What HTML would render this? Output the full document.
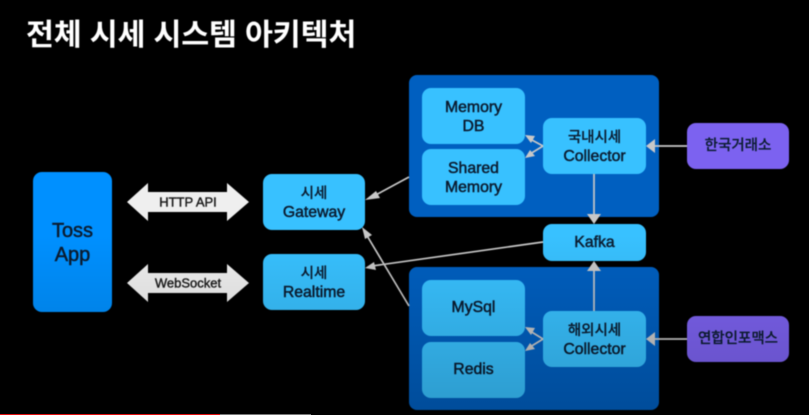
<!DOCTYPE html>
<html><head><meta charset="utf-8"><style>
html,body{margin:0;padding:0;background:#000}
#s{position:relative;width:809px;height:415px;overflow:hidden;background:#000;font-family:"Liberation Sans","Noto Sans CJK KR",sans-serif}
#w{position:absolute;inset:0;filter:blur(.45px)}
.b{position:absolute;display:flex;align-items:center;justify-content:center;text-align:center;color:#0b1c30;font-size:15.8px;line-height:18.5px;font-weight:400;box-sizing:border-box;-webkit-text-stroke:.5px #0b1c30;padding-top:3px}
.k{font-size:14.5px;font-weight:500;-webkit-text-stroke:.2px #0b1c30}
.c{background:#38c1ff;border-radius:9px}
.g{background:#005fc0;border-radius:8px}
.p{background:#7c62f0;border-radius:9px}
svg{position:absolute;left:0;top:0}
#o{position:absolute;left:0;top:0;width:809px;height:415px;background:linear-gradient(to bottom,rgba(0,0,0,0) 0,rgba(0,0,0,0) 235px,rgba(0,0,0,.2) 415px)}
</style></head><body><div id="s"><div id="w">
<div style="position:absolute;left:26px;top:16px;color:#fff;font-size:30.4px;line-height:38px;font-weight:700;white-space:nowrap;letter-spacing:-.2px">전체 시세 시스템 아키텍처</div>
<div class="b" style="left:33px;top:172px;width:79px;height:140px;background:#0090ff;border-radius:9px;font-size:20px;line-height:24px;-webkit-text-stroke:.5px #0b1c30;padding-top:2px">Toss<br>App</div>
<div class="b c" style="left:263px;top:174px;width:102px;height:56px"><span><span class="k">시세</span><br>Gateway</span></div>
<div class="b c" style="left:263px;top:254px;width:102px;height:56px"><span><span class="k">시세</span><br>Realtime</span></div>
<div class="b g" style="left:409px;top:75px;width:250px;height:142px"></div>
<div class="b g" style="left:409px;top:267px;width:250px;height:143px"></div>
<div class="b c" style="left:422px;top:88px;width:103px;height:56px">Memory<br>DB</div>
<div class="b c" style="left:422px;top:149px;width:103px;height:56px">Shared<br>Memory</div>
<div class="b c" style="left:543px;top:118px;width:103px;height:56px"><span><span class="k">국내시세</span><br>Collector</span></div>
<div class="b c" style="left:543px;top:224px;width:103px;height:37px;padding-top:1px">Kafka</div>
<div class="b c" style="left:422px;top:280px;width:103px;height:56px;padding-top:1px">MySql</div>
<div class="b c" style="left:422px;top:342px;width:103px;height:56px;padding-top:1px">Redis</div>
<div class="b c" style="left:543px;top:311px;width:103px;height:56px"><span><span class="k">해외시세</span><br>Collector</span></div>
<div class="b p" style="left:687px;top:123px;width:102px;height:46px;padding-top:0"><span class="k">한국거래소</span></div>
<div class="b p" style="left:687px;top:316px;width:102px;height:46px;padding-top:0"><span class="k">연합인포맥스</span></div>
<svg width="809" height="415" viewBox="0 0 809 415" fill="none">
<polygon points="127,202 148,183 148,192 227,192 227,183 249,202 227,221 227,212 148,212 148,221" fill="#efefef"/>
<polygon points="127,283 148,264 148,273 227,273 227,264 249,283 227,302 227,293 148,293 148,302" fill="#efefef"/>
<g stroke="#c8c8c8" stroke-width="1.7">
<line x1="409" y1="177" x2="372" y2="197"/>
<line x1="409" y1="306" x2="366" y2="234"/>
<line x1="543" y1="242" x2="372" y2="266"/>
<line x1="543" y1="146" x2="530" y2="139"/>
<line x1="543" y1="146" x2="530" y2="154"/>
<line x1="594" y1="174" x2="594" y2="217"/>
<line x1="687" y1="146" x2="652" y2="146"/>
<line x1="543" y1="339" x2="530" y2="331"/>
<line x1="543" y1="339" x2="530" y2="347"/>
<line x1="594" y1="311" x2="594" y2="268"/>
<line x1="687" y1="339" x2="652" y2="339"/>
</g>
<g fill="#c8c8c8">
<polygon points="365,200 376,191 380,198"/>
<polygon points="362,227 372,235 365,239"/>
<polygon points="365,268 374,262 376,270"/>
<polygon points="525,135 535,136 531,143"/>
<polygon points="525,158 530,150 535,156"/>
<polygon points="594,224 587,214 601,214"/>
<polygon points="646,146 655,139 655,153"/>
<polygon points="525,327 535,328 531,335"/>
<polygon points="525,351 530,343 535,349"/>
<polygon points="594,261 587,271 601,271"/>
<polygon points="646,339 655,332 655,346"/>
</g>
<g font-family="'Liberation Sans',sans-serif" font-size="13" fill="#1c1c1c" stroke="#1c1c1c" stroke-width=".4" text-anchor="middle">
<text x="188" y="206.500">HTTP API</text>
<text x="188" y="287.500">WebSocket</text>
</g>
</svg>
</div>
<div id="o"></div>
<div style="position:absolute;left:0;top:414px;width:220px;height:1px;background:#e01010"></div>
<div style="position:absolute;left:220px;top:414px;width:91px;height:1px;background:#777"></div>
</div></body></html>
